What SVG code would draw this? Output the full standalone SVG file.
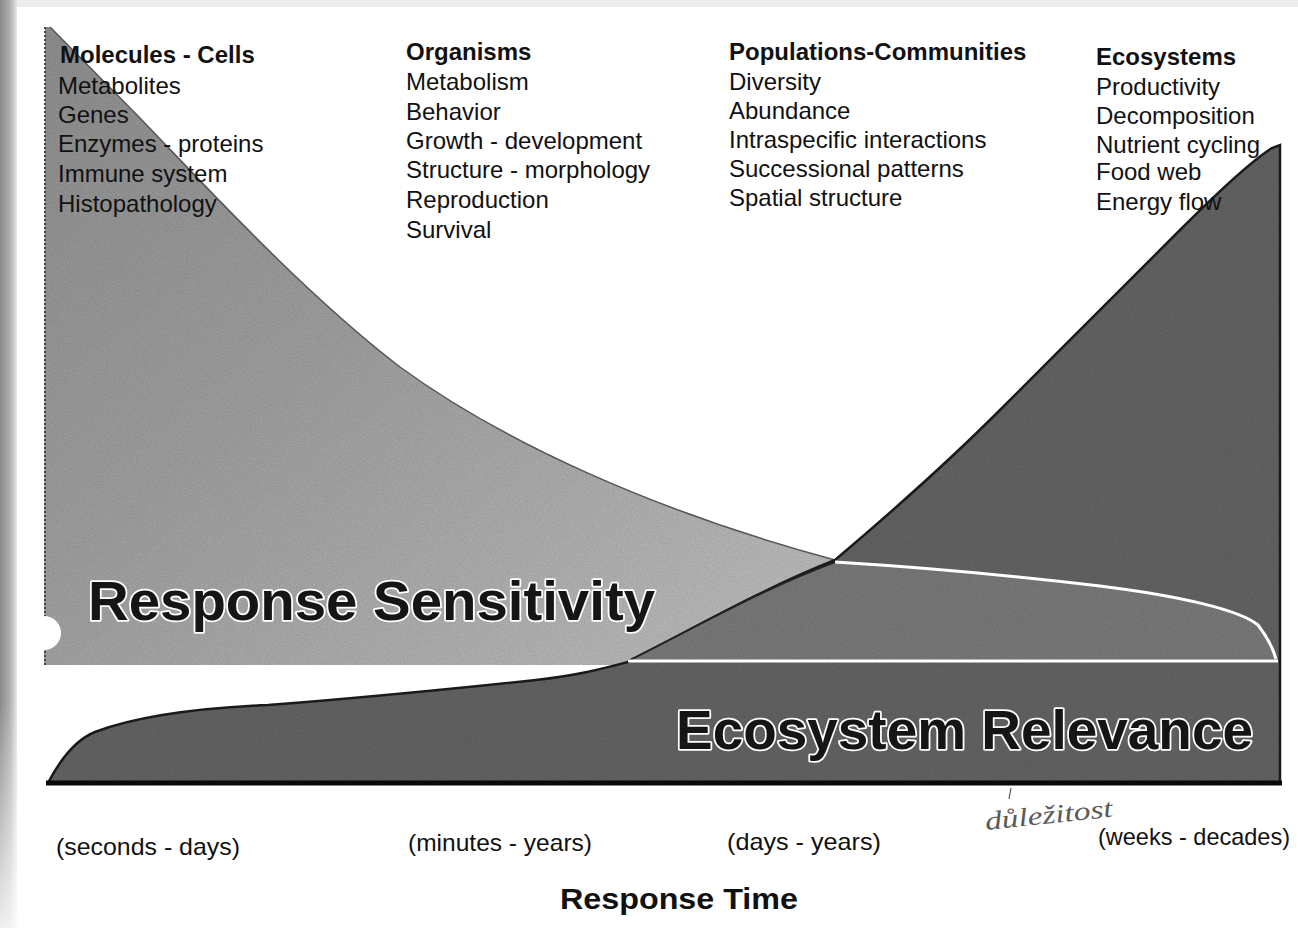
<svg xmlns="http://www.w3.org/2000/svg" width="1298" height="928" viewBox="0 0 1298 928">
<style>
  text { font-family: "Liberation Sans", Arial, sans-serif; fill: #111; }
  .hd { font-size: 24px; font-weight: bold; }
  .it { font-size: 24px; }
  .tm { font-size: 24px; }
  .big { font-size: 56px; font-weight: bold; fill: #151515; stroke: #fff; stroke-width: 3.5px; paint-order: stroke; stroke-linejoin: round; }
  .axis { font-size: 29px; font-weight: bold; }
  .hand { font-family: "Liberation Serif", "DejaVu Serif", serif; font-style: italic; font-size: 26px; fill: #5a5a5a; }
</style>
<defs>
  <linearGradient id="gSens" x1="0" y1="0" x2="1" y2="1">
    <stop offset="0" stop-color="#949494"/>
    <stop offset="0.45" stop-color="#a6a6a6"/>
    <stop offset="1" stop-color="#c6c6c6"/>
  </linearGradient>
  <linearGradient id="gBorder" x1="0" y1="0" x2="1" y2="0">
    <stop offset="0" stop-color="#8a8a8a"/>
    <stop offset="0.6" stop-color="#b0b0b0"/>
    <stop offset="1" stop-color="#e6e6e6"/>
  </linearGradient>
  <linearGradient id="gBorderFade" x1="0" y1="0" x2="0" y2="1">
    <stop offset="0" stop-color="#fff" stop-opacity="0"/>
    <stop offset="1" stop-color="#fff" stop-opacity="0.85"/>
  </linearGradient>
  <filter id="grain" x="0" y="0" width="100%" height="100%">
    <feTurbulence type="fractalNoise" baseFrequency="0.9" numOctaves="2" seed="3" result="n"/>
    <feColorMatrix in="n" type="matrix" values="0 0 0 0 0  0 0 0 0 0  0 0 0 0 0  0 0 0 0.35 0" result="a"/>
    <feComposite in="a" in2="SourceGraphic" operator="in" result="m"/>
    <feMerge><feMergeNode in="SourceGraphic"/><feMergeNode in="m"/></feMerge>
  </filter>
</defs>

<!-- page -->
<rect width="1298" height="928" fill="#ffffff"/>
<rect x="0" y="0" width="1298" height="7" fill="#ececec"/>
<rect x="0" y="0" width="17" height="928" fill="url(#gBorder)"/>
<rect x="0" y="700" width="17" height="228" fill="url(#gBorderFade)"/>

<!-- Response Sensitivity area -->
<g id="response-sensitivity-area">
  <path d="M45,27 L50,27 L137,115 C200,180 300,290 400,367 C500,440 650,510 835,560 L760,600 L628,662 L628,665 L44,665 Z" fill="url(#gSens)" filter="url(#grain)"/>
  <path d="M45,27 L45,665" stroke="#444" stroke-width="2" stroke-dasharray="2 2" fill="none"/>
  <path d="M50,27 L137,115 C200,180 300,290 400,367 C500,440 650,510 835,560" stroke="#555" stroke-width="1.5" fill="none"/>
  <circle cx="44" cy="633" r="17" fill="#ffffff"/>
</g>

<!-- Ecosystem Relevance area -->
<g id="ecosystem-relevance-area">
  <path d="M48,783 C60,760 75,740 95,732 C140,715 200,708 268,705 C360,698 460,688 536,680 C580,675 605,668 628,662 C700,625 760,590 835,560 C900,505 950,460 1000,410 C1060,350 1110,300 1180,230 C1220,190 1250,162 1272,148 L1280,145 L1280,783 Z" fill="#676767" filter="url(#grain)"/>
  <path d="M48,783 C60,760 75,740 95,732 C140,715 200,708 268,705 C360,698 460,688 536,680 C580,675 605,668 628,662 C700,625 760,590 835,560 C900,505 950,460 1000,410 C1060,350 1110,300 1180,230 C1220,190 1250,162 1272,148 L1280,145 L1280,783" fill="none" stroke="#1a1a1a" stroke-width="2.5"/>
  <line x1="46" y1="783" x2="1282" y2="783" stroke="#0a0a0a" stroke-width="5"/>
</g>

<!-- Overlap region -->
<g id="overlap-region">
  <path d="M628,661 C700,625 760,590 835,562 C900,566 1000,574 1100,586 C1180,596 1240,610 1258,625 C1268,638 1273,648 1276,659 Z" fill="#7e7e7e" filter="url(#grain)"/>
  <path d="M835,562 C900,566 1000,574 1100,586 C1180,596 1240,610 1258,625 C1268,638 1273,648 1276,659" fill="none" stroke="#ffffff" stroke-width="3"/>
  <path d="M628,661 C700,625 760,590 835,562" fill="none" stroke="#222" stroke-width="2"/>
  <line x1="628" y1="661" x2="1278" y2="661" stroke="#ffffff" stroke-width="3"/>
</g>

<!-- Column: Molecules - Cells -->
<g id="col-molecules-cells">
  <text class="hd" x="60" y="63">Molecules - Cells</text>
  <text class="it" x="58" y="94">Metabolites</text>
  <text class="it" x="58" y="123">Genes</text>
  <text class="it" x="58" y="152">Enzymes - proteins</text>
  <text class="it" x="58" y="182">Immune system</text>
  <text class="it" x="58" y="212">Histopathology</text>
</g>

<!-- Column: Organisms -->
<g id="col-organisms">
  <text class="hd" x="406" y="60">Organisms</text>
  <text class="it" x="406" y="90">Metabolism</text>
  <text class="it" x="406" y="120">Behavior</text>
  <text class="it" x="406" y="149">Growth - development</text>
  <text class="it" x="406" y="178">Structure - morphology</text>
  <text class="it" x="406" y="208">Reproduction</text>
  <text class="it" x="406" y="238">Survival</text>
</g>

<!-- Column: Populations-Communities -->
<g id="col-populations-communities">
  <text class="hd" x="729" y="60">Populations-Communities</text>
  <text class="it" x="729" y="90">Diversity</text>
  <text class="it" x="729" y="119">Abundance</text>
  <text class="it" x="729" y="148">Intraspecific interactions</text>
  <text class="it" x="729" y="177">Successional patterns</text>
  <text class="it" x="729" y="206">Spatial structure</text>
</g>

<!-- Column: Ecosystems -->
<g id="col-ecosystems">
  <text class="hd" x="1096" y="65">Ecosystems</text>
  <text class="it" x="1096" y="95">Productivity</text>
  <text class="it" x="1096" y="124">Decomposition</text>
  <text class="it" x="1096" y="153">Nutrient cycling</text>
  <text class="it" x="1096" y="180">Food web</text>
  <text class="it" x="1096" y="210">Energy flow</text>
</g>

<!-- Big labels -->
<g id="label-response-sensitivity">
  <text class="big" x="88" y="620" textLength="567" lengthAdjust="spacingAndGlyphs">Response Sensitivity</text>
</g>
<g id="label-ecosystem-relevance">
  <text class="big" x="676" y="749" textLength="577" lengthAdjust="spacingAndGlyphs">Ecosystem Relevance</text>
</g>

<!-- Time scales -->
<g id="time-scales">
  <text class="tm" x="56" y="855" textLength="184" lengthAdjust="spacingAndGlyphs">(seconds - days)</text>
  <text class="tm" x="408" y="851" textLength="184" lengthAdjust="spacingAndGlyphs">(minutes - years)</text>
  <text class="tm" x="727" y="850" textLength="154" lengthAdjust="spacingAndGlyphs">(days - years)</text>
  <text class="tm" x="1098" y="845" textLength="192" lengthAdjust="spacingAndGlyphs">(weeks - decades)</text>
</g>

<g id="axis-title">
  <text class="axis" x="560" y="909" textLength="238" lengthAdjust="spacingAndGlyphs">Response Time</text>
</g>

<!-- handwritten note -->
<g id="handwritten-note">
  <line x1="1011" y1="788" x2="1009" y2="799" stroke="#555" stroke-width="1.2"/>
  <text class="hand" x="986" y="830" transform="rotate(-6 986 830)" textLength="128" lengthAdjust="spacingAndGlyphs">důležitost</text>
</g>
</svg>
